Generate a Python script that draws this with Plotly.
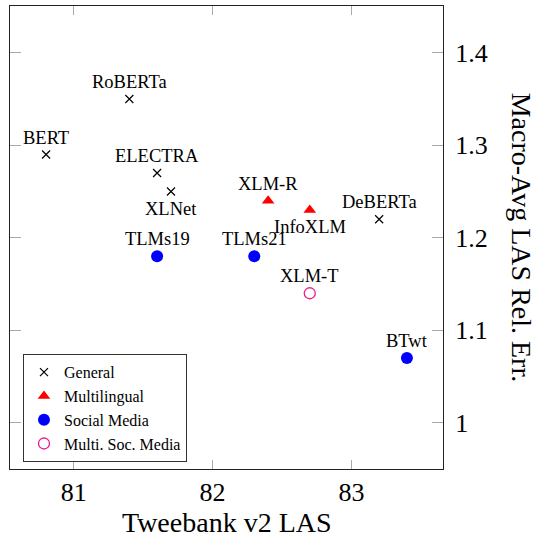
import plotly.graph_objects as go

# ---- data ----
general_names = ["BERT", "RoBERTa", "ELECTRA", "XLNet", "DeBERTa"]
general_las = [80.8, 81.4, 81.6, 81.7, 83.2]
general_err = [1.29, 1.35, 1.27, 1.25, 1.22]

multi_names = ["XLM-R", "InfoXLM"]
multi_las = [82.4, 82.7]
multi_err = [1.24, 1.23]

social_names = ["TLMs19", "TLMs21", "BTwt"]
social_las = [81.6, 82.3, 83.4]
social_err = [1.18, 1.18, 1.07]

msm_names = ["XLM-T"]
msm_las = [82.7]
msm_err = [1.14]

x_ticks = [81, 82, 83]
y_ticks = [1.0, 1.1, 1.2, 1.3, 1.4]
y_tick_labels = ["1", "1.1", "1.2", "1.3", "1.4"]

# labels placed below their point (all others above)
below = {"XLNet", "InfoXLM"}

FONT = "Liberation Serif"

fig = go.Figure()
fig.add_trace(go.Scatter(
    x=general_las, y=general_err, mode="markers", name="General",
    marker=dict(symbol="x-thin", size=8, color="black",
                line=dict(width=1.2, color="black"))))
fig.add_trace(go.Scatter(
    x=multi_las, y=multi_err, mode="markers", name="Multilingual",
    marker=dict(symbol="triangle-up", size=11, color="#ff0000")))
fig.add_trace(go.Scatter(
    x=social_las, y=social_err, mode="markers", name="Social Media",
    marker=dict(symbol="circle", size=12, color="#0000ff")))
fig.add_trace(go.Scatter(
    x=msm_las, y=msm_err, mode="markers", name="Multi. Soc. Media",
    marker=dict(symbol="circle-open", size=11, color="#e6218c",
                line=dict(width=1.3, color="#e6218c"))))

annos = []
for names, xs, ys in [(general_names, general_las, general_err),
                      (multi_names, multi_las, multi_err),
                      (social_names, social_las, social_err),
                      (msm_names, msm_las, msm_err)]:
    for n, xv, yv in zip(names, xs, ys):
        annos.append(dict(x=xv, y=yv, xref="x", yref="y", text=n,
                          showarrow=False, xanchor="center", yanchor="middle",
                          yshift=-17 if n in below else 17,
                          font=dict(family=FONT, size=18.5, color="black")))

annos.append(dict(x=0.5, y=-0.115, xref="paper", yref="paper",
                  text="Tweebank v2 LAS", showarrow=False,
                  xanchor="center", yanchor="middle",
                  font=dict(family=FONT, size=28, color="black")))
annos.append(dict(x=1.182, y=0.5, xref="paper", yref="paper",
                  text="Macro-Avg LAS Rel. Err.", showarrow=False,
                  textangle=90, xanchor="center", yanchor="middle",
                  font=dict(family=FONT, size=28, color="black")))

fig.update_layout(
    width=543, height=540,
    margin=dict(l=10, r=100, t=6, b=71),
    paper_bgcolor="white", plot_bgcolor="white",
    font=dict(family=FONT, color="black"),
    annotations=annos,
    legend=dict(x=0.03, y=0.248, xanchor="left", yanchor="top",
                bgcolor="white", bordercolor="#333333", borderwidth=1,
                font=dict(family=FONT, size=16, color="black"),
                itemwidth=30, tracegroupgap=0),
)
fig.update_xaxes(range=[80.54, 83.66], tickvals=x_ticks,
                 ticktext=[str(t) for t in x_ticks],
                 showgrid=False, zeroline=False,
                 showline=True, linecolor="#222222", linewidth=1.2, mirror="ticks",
                 ticks="inside", ticklen=9, tickcolor="#aaaaaa", tickwidth=1,
                 tickfont=dict(family=FONT, size=26, color="black"))
fig.update_yaxes(range=[0.95, 1.4506], tickvals=y_ticks, ticktext=y_tick_labels,
                 side="right", showgrid=False, zeroline=False,
                 showline=True, linecolor="#222222", linewidth=1.2, mirror="ticks",
                 ticks="inside", ticklen=11, tickcolor="#aaaaaa", tickwidth=1,
                 ticklabelstandoff=6,
                 tickfont=dict(family=FONT, size=26, color="black"))

fig.write_html("out.html", config={"displayModeBar": False},
               post_script="document.body.style.margin='0';document.body.style.overflow='hidden';")
